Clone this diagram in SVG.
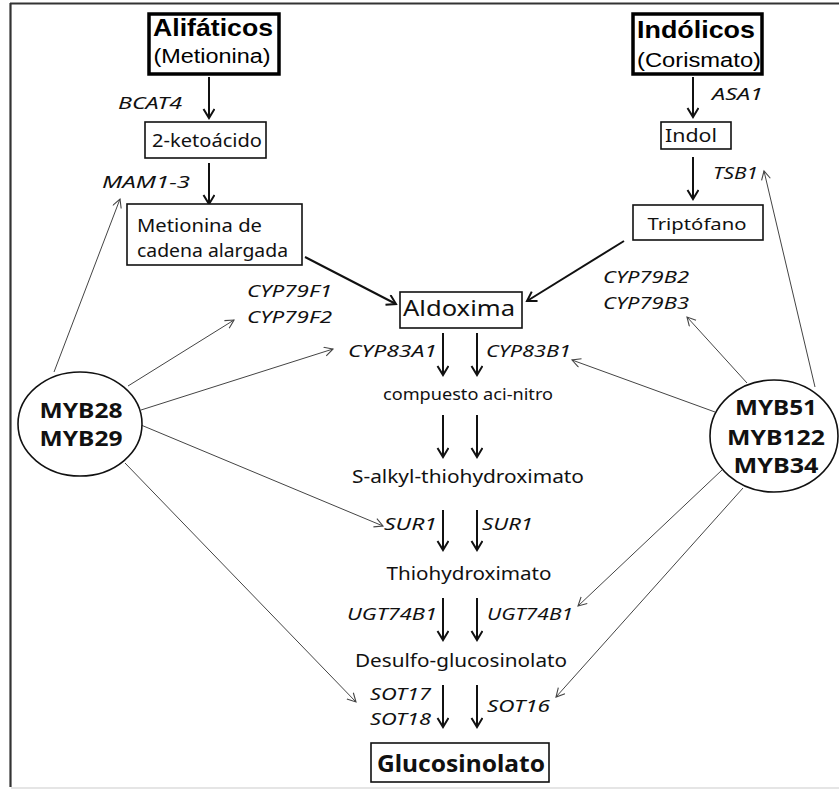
<svg xmlns="http://www.w3.org/2000/svg" width="839" height="789" viewBox="0 0 839 789">
<style>
.t{font-family:"Noto Sans","Open Sans",sans-serif;fill:#111}
.b{font-family:"Liberation Sans",Arial,sans-serif;fill:#000}
.g{font-family:"Noto Sans","Open Sans",sans-serif;font-style:italic;font-size:17px;fill:#111}
.box{fill:#fff;stroke:#111;stroke-width:1.6}
.tbox{fill:#fff;stroke:#000;stroke-width:3.5}
.main{stroke:#111;stroke-width:2;fill:none}
.thin{stroke:#444;stroke-width:1;fill:none}
</style>
<defs>
<marker id="ah" markerWidth="14" markerHeight="14" refX="10" refY="6" orient="auto" markerUnits="userSpaceOnUse">
<path d="M1,0.5 L10,6 L1,11.5" fill="none" stroke="#111" stroke-width="2"/>
</marker>
<marker id="at" markerWidth="12" markerHeight="12" refX="9" refY="5" orient="auto" markerUnits="userSpaceOnUse">
<path d="M0.5,0.5 L9,5 L0.5,9.5" fill="none" stroke="#444" stroke-width="1.1"/>
</marker>
</defs>
<rect x="0" y="0" width="839" height="789" fill="#fff"/>
<g id="frame">
<line x1="10" y1="3.5" x2="839" y2="3.5" stroke="#333" stroke-width="2.2"/>
<line x1="10.5" y1="3" x2="10.5" y2="787" stroke="#333" stroke-width="2.2"/>
<line x1="11" y1="788" x2="839" y2="788" stroke="#ddd" stroke-width="1.5"/>
</g>
<g id="connectors">
<line class="main" x1="209" y1="77" x2="209" y2="118" marker-end="url(#ah)"/>
<line class="main" x1="209" y1="163" x2="209" y2="204" marker-end="url(#ah)"/>
<line class="main" x1="693" y1="77" x2="693" y2="117" marker-end="url(#ah)"/>
<line class="main" x1="693" y1="157" x2="693" y2="199" marker-end="url(#ah)"/>
<line class="main" x1="305" y1="257" x2="396" y2="304" marker-end="url(#ah)"/>
<line class="main" x1="624" y1="241" x2="527" y2="301" marker-end="url(#ah)"/>
<line class="main" x1="443" y1="333" x2="443" y2="375" marker-end="url(#ah)"/>
<line class="main" x1="477" y1="333" x2="477" y2="375" marker-end="url(#ah)"/>
<line class="main" x1="443" y1="415" x2="443" y2="457" marker-end="url(#ah)"/>
<line class="main" x1="477" y1="415" x2="477" y2="457" marker-end="url(#ah)"/>
<line class="main" x1="443" y1="510" x2="443" y2="550" marker-end="url(#ah)"/>
<line class="main" x1="477" y1="510" x2="477" y2="550" marker-end="url(#ah)"/>
<line class="main" x1="443" y1="598" x2="443" y2="640" marker-end="url(#ah)"/>
<line class="main" x1="477" y1="598" x2="477" y2="640" marker-end="url(#ah)"/>
<line class="main" x1="443" y1="685" x2="443" y2="727" marker-end="url(#ah)"/>
<line class="main" x1="477" y1="685" x2="477" y2="727" marker-end="url(#ah)"/>
<line class="thin" x1="54" y1="372" x2="120" y2="199" marker-end="url(#at)"/>
<line class="thin" x1="128" y1="386" x2="234" y2="320" marker-end="url(#at)"/>
<line class="thin" x1="141" y1="410" x2="333" y2="349" marker-end="url(#at)"/>
<line class="thin" x1="141" y1="425" x2="383" y2="526" marker-end="url(#at)"/>
<line class="thin" x1="125" y1="463" x2="356" y2="702" marker-end="url(#at)"/>
<line class="thin" x1="815" y1="387" x2="764" y2="171" marker-end="url(#at)"/>
<line class="thin" x1="747" y1="383" x2="687" y2="317" marker-end="url(#at)"/>
<line class="thin" x1="715" y1="412" x2="572" y2="360" marker-end="url(#at)"/>
<line class="thin" x1="722" y1="470" x2="578" y2="606" marker-end="url(#at)"/>
<line class="thin" x1="743" y1="488" x2="556" y2="697" marker-end="url(#at)"/>
</g>
<g id="alifaticos">
<rect class="tbox" x="149" y="14" width="130" height="60"/>
<text class="b" x="213" y="36" font-size="24" font-weight="bold" text-anchor="middle" textLength="120" lengthAdjust="spacingAndGlyphs">Alifáticos</text>
<text class="b" x="212" y="63" font-size="20" text-anchor="middle" textLength="117" lengthAdjust="spacingAndGlyphs">(Metionina)</text>
</g>
<g id="indolicos">
<rect class="tbox" x="633" y="14" width="129" height="60"/>
<text class="b" x="696" y="38" font-size="24" font-weight="bold" text-anchor="middle" textLength="118" lengthAdjust="spacingAndGlyphs">Indólicos</text>
<text class="b" x="699" y="67" font-size="20" text-anchor="middle" textLength="124" lengthAdjust="spacingAndGlyphs">(Corismato)</text>
</g>
<g id="ketoacido">
<rect class="box" x="145" y="122" width="121" height="36"/>
<text class="t" x="207" y="147" font-size="18" text-anchor="middle" textLength="110" lengthAdjust="spacingAndGlyphs">2-ketoácido</text>
</g>
<g id="metionina-alargada">
<rect class="box" x="127" y="204" width="175" height="61"/>
<text class="t" x="137" y="232" font-size="18" textLength="125" lengthAdjust="spacingAndGlyphs">Metionina de</text>
<text class="t" x="137" y="257" font-size="18" textLength="151" lengthAdjust="spacingAndGlyphs">cadena alargada</text>
</g>
<g id="indol">
<rect class="box" x="661" y="122" width="70" height="27"/>
<text class="t" x="691" y="142" font-size="18" text-anchor="middle" textLength="52" lengthAdjust="spacingAndGlyphs">Indol</text>
</g>
<g id="triptofano">
<rect class="box" x="633" y="205" width="130" height="35"/>
<text class="t" x="697" y="230" font-size="17" text-anchor="middle" textLength="99" lengthAdjust="spacingAndGlyphs">Triptófano</text>
</g>
<g id="aldoxima">
<rect class="box" x="400" y="292" width="122" height="36"/>
<text class="t" x="459" y="316" font-size="22" text-anchor="middle" textLength="112" lengthAdjust="spacingAndGlyphs">Aldoxima</text>
</g>
<g id="aci-nitro">
<text class="t" x="468" y="400" font-size="16.5" text-anchor="middle" textLength="170" lengthAdjust="spacingAndGlyphs">compuesto aci-nitro</text>
</g>
<g id="s-alkyl">
<text class="t" x="468" y="483" font-size="18" text-anchor="middle" textLength="232" lengthAdjust="spacingAndGlyphs">S-alkyl-thiohydroximato</text>
</g>
<g id="thiohydroximato">
<text class="t" x="469" y="580" font-size="18" text-anchor="middle" textLength="165" lengthAdjust="spacingAndGlyphs">Thiohydroximato</text>
</g>
<g id="desulfo">
<text class="t" x="461" y="667" font-size="18" text-anchor="middle" textLength="212" lengthAdjust="spacingAndGlyphs">Desulfo-glucosinolato</text>
</g>
<g id="glucosinolato">
<rect class="box" x="371" y="743" width="178" height="39" stroke-width="2"/>
<text class="t" x="461" y="772" font-size="23" font-weight="bold" text-anchor="middle" textLength="168" lengthAdjust="spacingAndGlyphs">Glucosinolato</text>
</g>
<g id="myb28">
<ellipse cx="80" cy="424" rx="62" ry="52" fill="#fff" stroke="#111" stroke-width="1.6"/>
<text class="t" x="81" y="418" font-size="22" font-weight="bold" text-anchor="middle" textLength="83" lengthAdjust="spacingAndGlyphs">MYB28</text>
<text class="t" x="81" y="446" font-size="22" font-weight="bold" text-anchor="middle" textLength="83" lengthAdjust="spacingAndGlyphs">MYB29</text>
</g>
<g id="myb51">
<ellipse cx="774" cy="436" rx="64" ry="56" fill="#fff" stroke="#111" stroke-width="1.6"/>
<text class="t" x="776" y="415" font-size="22" font-weight="bold" text-anchor="middle" textLength="82" lengthAdjust="spacingAndGlyphs">MYB51</text>
<text class="t" x="776" y="445" font-size="22" font-weight="bold" text-anchor="middle" textLength="98" lengthAdjust="spacingAndGlyphs">MYB122</text>
<text class="t" x="776" y="473" font-size="22" font-weight="bold" text-anchor="middle" textLength="85" lengthAdjust="spacingAndGlyphs">MYB34</text>
</g>
<g id="genes">
<text class="g" x="118" y="109" textLength="64" lengthAdjust="spacingAndGlyphs">BCAT4</text>
<text class="g" x="102" y="188" textLength="88" lengthAdjust="spacingAndGlyphs">MAM1-3</text>
<text class="g" x="712" y="100" textLength="51" lengthAdjust="spacingAndGlyphs">ASA1</text>
<text class="g" x="713" y="179" textLength="45" lengthAdjust="spacingAndGlyphs">TSB1</text>
<text class="g" x="247" y="297" textLength="85" lengthAdjust="spacingAndGlyphs">CYP79F1</text>
<text class="g" x="247" y="323" textLength="85" lengthAdjust="spacingAndGlyphs">CYP79F2</text>
<text class="g" x="603" y="283" textLength="86" lengthAdjust="spacingAndGlyphs">CYP79B2</text>
<text class="g" x="603" y="309" textLength="86" lengthAdjust="spacingAndGlyphs">CYP79B3</text>
<text class="g" x="348" y="357" textLength="89" lengthAdjust="spacingAndGlyphs">CYP83A1</text>
<text class="g" x="486" y="357" textLength="85" lengthAdjust="spacingAndGlyphs">CYP83B1</text>
<text class="g" x="384" y="530" textLength="53" lengthAdjust="spacingAndGlyphs">SUR1</text>
<text class="g" x="482" y="530" textLength="51" lengthAdjust="spacingAndGlyphs">SUR1</text>
<text class="g" x="347" y="620" textLength="90" lengthAdjust="spacingAndGlyphs">UGT74B1</text>
<text class="g" x="487" y="620" textLength="86" lengthAdjust="spacingAndGlyphs">UGT74B1</text>
<text class="g" x="370" y="700" textLength="61" lengthAdjust="spacingAndGlyphs">SOT17</text>
<text class="g" x="370" y="725" textLength="61" lengthAdjust="spacingAndGlyphs">SOT18</text>
<text class="g" x="487" y="712" textLength="63" lengthAdjust="spacingAndGlyphs">SOT16</text>
</g>
</svg>
